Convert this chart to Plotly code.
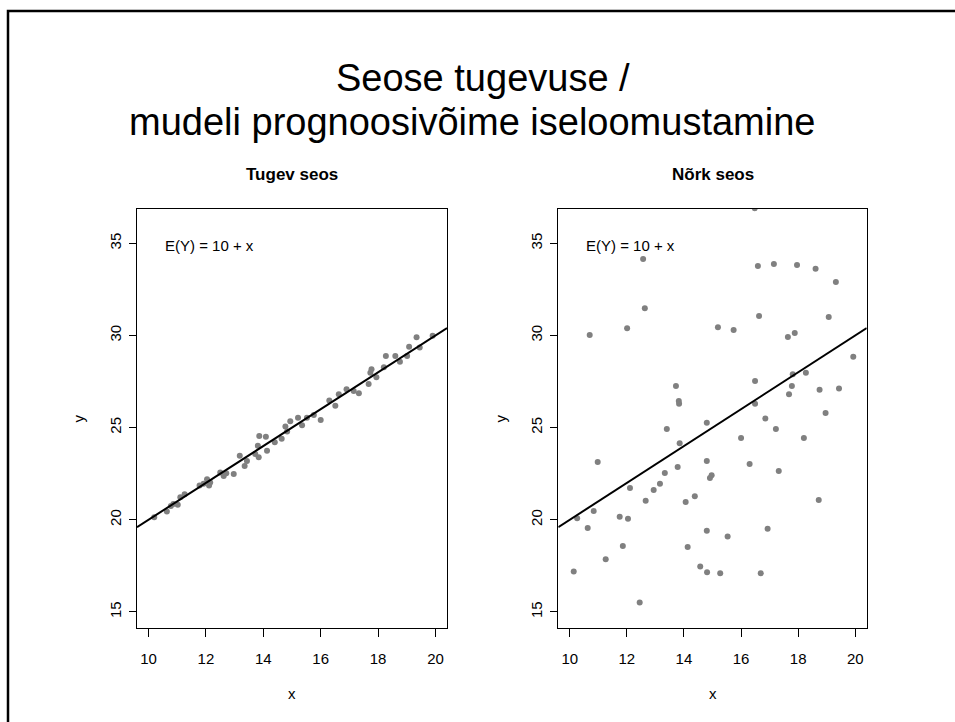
import plotly.graph_objects as go

# Strong relationship sample
strong_x = [10.20, 10.64, 10.78, 10.87, 11.02, 11.11, 11.26, 11.78, 11.92, 12.04,
            12.11, 12.15, 12.50, 12.62, 12.71, 12.97, 13.18, 13.35, 13.43, 13.72,
            13.81, 13.84, 13.86, 14.09, 14.13, 14.40, 14.64, 14.77, 14.83, 14.94,
            15.21, 15.35, 15.52, 15.76, 16.00, 16.30, 16.51, 16.63, 16.90, 17.15,
            17.33, 17.67, 17.73, 17.77, 17.94, 18.20, 18.27, 18.60, 18.76, 19.01,
            19.08, 19.34, 19.45, 19.90]
strong_y = [20.14, 20.45, 20.75, 20.86, 20.81, 21.22, 21.39, 21.86, 21.95, 22.20,
            21.86, 22.02, 22.56, 22.38, 22.53, 22.49, 23.47, 22.92, 23.19, 23.57,
            24.01, 23.39, 24.55, 24.51, 23.74, 24.21, 24.39, 25.06, 24.79, 25.35,
            25.54, 25.13, 25.54, 25.69, 25.42, 26.47, 26.18, 26.81, 27.08, 26.99,
            26.87, 27.37, 27.98, 28.17, 27.73, 28.28, 28.89, 28.89, 28.58, 28.89,
            29.39, 29.90, 29.34, 29.99]

# Weak relationship sample
weak_x = [16.48, 12.57, 12.63, 10.70, 12.01, 15.19, 15.74, 16.59, 17.15, 17.96,
          18.61, 19.32, 16.63, 19.07, 17.64, 17.88, 19.93, 13.72, 13.82, 13.83,
          16.49, 16.49, 17.81, 18.27, 17.78, 17.68, 18.75, 19.43, 16.85, 18.96,
          13.40, 14.80, 13.85, 16.00, 17.22, 18.20, 10.98, 14.80, 16.30, 17.32,
          13.78, 13.33, 14.91, 14.97, 13.16, 12.94, 12.11, 12.66, 14.06, 14.38,
          18.72, 10.84, 10.26, 11.75, 12.04, 10.63, 14.80, 16.93, 15.53, 11.86,
          14.13, 11.26, 14.57, 14.81, 15.27, 16.69, 10.14, 12.45]
weak_y = [36.90, 34.15, 31.47, 30.03, 30.39, 30.44, 30.30, 33.77, 33.88, 33.82,
          33.62, 32.90, 31.06, 31.00, 29.92, 30.14, 28.85, 27.26, 26.45, 26.29,
          27.53, 26.29, 27.89, 27.98, 27.26, 26.81, 27.06, 27.12, 25.49, 25.80,
          24.93, 25.27, 24.15, 24.44, 24.93, 24.44, 23.14, 23.19, 23.03, 22.65,
          22.87, 22.54, 22.27, 22.42, 21.95, 21.62, 21.73, 21.03, 20.97, 21.28,
          21.08, 20.48, 20.09, 20.16, 20.05, 19.56, 19.40, 19.51, 19.09, 18.58,
          18.53, 17.86, 17.46, 17.16, 17.10, 17.10, 17.19, 15.51]

# Model E(Y) = 10 + x
intercept = 10
slope = 1
line_x = [9.6, 20.4]
line_y = [intercept + slope * v for v in line_x]

x_ticks = [10, 12, 14, 16, 18, 20]
y_ticks = [15, 20, 25, 30, 35]
x_range = [9.6, 20.4]
y_range = [14.13, 36.86]

FONT = "Liberation Sans, Arial, Helvetica, sans-serif"
W, H = 955, 722

fig = go.Figure()
panels = [("x", "y", strong_x, strong_y), ("x2", "y2", weak_x, weak_y)]
for xa, ya, px, py in panels:
    fig.add_trace(go.Scatter(x=px, y=py, mode="markers", xaxis=xa, yaxis=ya,
                             marker=dict(color="#808080", size=6, line=dict(width=0)),
                             showlegend=False, hoverinfo="skip"))
    fig.add_trace(go.Scatter(x=line_x, y=line_y, mode="lines", xaxis=xa, yaxis=ya,
                             line=dict(color="black", width=2),
                             showlegend=False, hoverinfo="skip"))

def xaxis(domain, anchor):
    return dict(domain=domain, anchor=anchor, range=x_range, tickvals=x_ticks,
                ticks="outside", ticklen=8, tickwidth=1, tickcolor="black",
                showline=True, mirror=True, linecolor="black", linewidth=1,
                showgrid=False, zeroline=False, ticklabelstandoff=9,
                tickfont=dict(family=FONT, size=15, color="black"))

def yaxis(domain, anchor):
    return dict(domain=domain, anchor=anchor, range=y_range, tickvals=y_ticks,
                ticks="outside", ticklen=7, tickwidth=1, tickcolor="black",
                showline=True, mirror=True, linecolor="black", linewidth=1,
                showgrid=False, zeroline=False, tickangle=-90, ticklabelstandoff=2,
                tickfont=dict(family=FONT, size=15, color="black"))

left_dom = [137 / W, 447 / W]
right_dom = [558.3 / W, 866.7 / W]
y_dom = [1 - 628 / H, 1 - 209 / H]

fig.update_layout(
    width=W, height=H,
    margin=dict(l=0, r=0, t=0, b=0),
    paper_bgcolor="white", plot_bgcolor="white",
    font=dict(family=FONT, color="black"),
    xaxis=xaxis(left_dom, "y"), yaxis=yaxis(y_dom, "x"),
    xaxis2=xaxis(right_dom, "y2"), yaxis2=yaxis(y_dom, "x2"),
)

ann = []
# slide title
ann.append(dict(text="Seose tugevuse /", x=483 / W, y=1 - 78 / H, xref="paper", yref="paper",
                showarrow=False, xanchor="center", yanchor="middle",
                font=dict(family=FONT, size=38, color="black")))
ann.append(dict(text="mudeli prognoosivõime iseloomustamine", x=472 / W, y=1 - 122 / H,
                xref="paper", yref="paper", showarrow=False, xanchor="center", yanchor="middle",
                font=dict(family=FONT, size=38, color="black")))
# panel titles
for title, dom in [("<b>Tugev seos</b>", left_dom), ("<b>Nõrk seos</b>", right_dom)]:
    cx = (dom[0] + dom[1]) / 2
    ann.append(dict(text=title, x=cx, y=1 - 174 / H, xref="paper", yref="paper",
                    showarrow=False, xanchor="center", yanchor="middle",
                    font=dict(family=FONT, size=17, color="black")))
    ann.append(dict(text="x", x=cx, y=1 - 693 / H, xref="paper", yref="paper",
                    showarrow=False, xanchor="center", yanchor="middle",
                    font=dict(family=FONT, size=15, color="black")))
# y-axis titles
for xpix in (78, 500):
    ann.append(dict(text="y", x=xpix / W, y=(y_dom[0] + y_dom[1]) / 2, xref="paper", yref="paper",
                    showarrow=False, xanchor="center", yanchor="middle", textangle=-90,
                    font=dict(family=FONT, size=15, color="black")))
# model formula inside each panel
for xr, yr in (("x", "y"), ("x2", "y2")):
    ann.append(dict(text="E(Y) = 10 + x", x=10.5, y=34.9, xref=xr, yref=yr,
                    showarrow=False, xanchor="left", yanchor="middle",
                    font=dict(family=FONT, size=15, color="black")))
fig.update_layout(annotations=ann)

# slide frame
fig.add_shape(type="rect", xref="paper", yref="paper",
              x0=8 / W, x1=1.05, y0=-0.05, y1=1 - 11 / H,
              line=dict(color="black", width=2.5), fillcolor="rgba(0,0,0,0)", layer="above")

fig.write_html("out.html")
